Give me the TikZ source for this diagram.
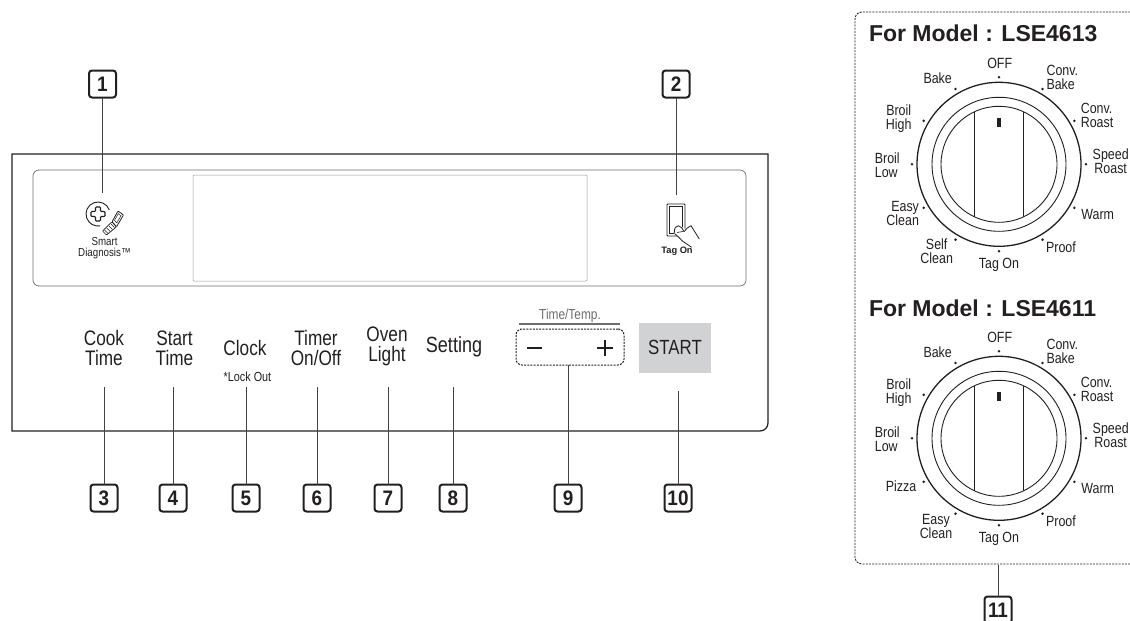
\documentclass[tikz,border=0pt]{standalone}
\usepackage{fontspec}
\setmainfont{Liberation Sans}
\newfontfamily\nar[FakeStretch=0.82]{Liberation Sans}
\newfontfamily\dialf[FakeStretch=0.84]{Liberation Sans}
\newfontfamily\narb[FakeStretch=0.9]{Liberation Sans Bold}
\definecolor{ink}{HTML}{231F20}
\definecolor{graybtn}{HTML}{D1D2D4}
\definecolor{midgray}{HTML}{6D6E70}
\tikzset{
  every node/.style={text=ink,inner sep=0pt,outer sep=0pt},
  callout/.style={draw=ink,line width=2pt,rounded corners=3pt,minimum width=27pt,minimum height=27pt,font=\narb\fontsize{21}{21}\selectfont},
  leader/.style={draw=ink!85,line width=1pt},
  keylabel/.style={align=center,font=\nar\fontsize{21}{20}\selectfont},
  dial/.style={align=center,font=\dialf\fontsize{14.8}{14}\selectfont},
  dialL/.style={align=left,font=\dialf\fontsize{14.8}{14}\selectfont},
  dialR/.style={align=right,font=\dialf\fontsize{14.8}{14}\selectfont},
  heading/.style={anchor=base west,font=\bfseries\fontsize{23}{23}\selectfont},
  ring/.style={draw=ink,line width=0.9pt},
  thinpanel/.style={draw=midgray,line width=0.7pt},
  dashframe/.style={draw=ink,line width=0.9pt,dash pattern=on 2pt off 1.2pt},
}
\newcommand{\knobparts}{%
  \draw[ring,line width=1.3pt] (0,0) circle (82pt);
  \draw[ring] (0,0) circle (67pt);
  \draw[ring] (0,0) circle (58pt);
  \draw[ring] (-24.7,-52.5) -- (-24.7,52.5);
  \draw[ring] (24.7,-52.5) -- (24.7,52.5);
  \fill[ink] (-1.6,-46.5) rectangle (1.6,-37.5);
  \foreach \a in {0,30,...,330} \fill[ink] (\a:87pt) circle (1.4pt);
}
\begin{document}
\begin{tikzpicture}[x=1pt,y=-1pt]
\useasboundingbox (0,0) rectangle (1130,621);
\clip (0,0) rectangle (1130,621);
% panel
\draw[draw=ink,line width=1.2pt,rounded corners=0pt] (12,431) -- (12,154) -- (768,154) -- (768,423)
   arc[start angle=0,end angle=-90,radius=8pt] -- cycle;
\draw[thinpanel,rounded corners=6pt] (33,170) rectangle (746,286);
\draw[draw=midgray!70,line width=0.5pt,rounded corners=1pt] (193,175) rectangle (587,281);
% callouts
\node[callout] (c1) at (102.5,84) {1};
\node[callout] (c2) at (676,84) {2};
\node[callout] (c3) at (104,498) {3};
\node[callout] (c4) at (173,498) {4};
\node[callout] (c5) at (246,498) {5};
\node[callout] (c6) at (317,498) {6};
\node[callout] (c7) at (388,498) {7};
\node[callout] (c8) at (453,498) {8};
\node[callout] (c9) at (568,498) {9};
\node[callout] (c10) at (678,498) {10};
\node[callout] (c11) at (998,610) {11};
% key labels
\node[keylabel] (cook) at (104,348) {Cook\\Time};
\node[keylabel] (start) at (174.5,348) {Start\\Time};
\node[keylabel] (clock) at (245,348) {Clock};
\node[font=\nar\fontsize{13.2}{13}\selectfont] (lock) at (247.5,377) {*Lock Out};
\node[keylabel] (timer) at (316,348) {Timer\\On/Off};
\node[keylabel] (oven) at (387,346) {Oven\\Light};
\node[font=\nar\fontsize{22}{22}\selectfont] (setting) at (454,347) {Setting};
\node[font=\nar\fontsize{14.5}{14}\selectfont,text=midgray] (timetemp) at (570,316) {Time/Temp.};
\draw[draw=midgray,line width=1.4pt] (519,324) -- (620,324);
\node[draw=ink,line width=1pt,dash pattern=on 2pt off 1.2pt,rounded corners=6pt,minimum width=108pt,minimum height=36pt] (updown) at (570,347) {};
\draw[ink,line width=1.4pt] (527,348) -- (542,348);
\draw[ink,line width=1.4pt] (597,348) -- (613,348) (605,340) -- (605,356);
\node[fill=graybtn,minimum width=72pt,minimum height=50pt] (startbtn) at (675,348) {};
\node[font=\nar\fontsize{20.5}{20}\selectfont] (starttxt) at (675,347.5) {START};
% smart diagnosis icon
\draw[ink,line width=0.9pt] (109.3,209.9) arc[start angle=20,end angle=280,radius=12pt];
\draw[ink,line width=1.1pt,rounded corners=0.8pt] (95.5,207) -- (100.5,207) -- (100.5,211.5) -- (105,211.5) -- (105,216.5) -- (100.5,216.5) -- (100.5,221) -- (95.5,221) -- (95.5,216.5) -- (91,216.5) -- (91,211.5) -- (95.5,211.5) -- cycle;
\draw[ink,line width=0.7pt,rounded corners=0.8pt] (102.5,231) -- (106.5,235) -- (116.5,226.8) -- (112,221.8) -- cycle;
\draw[ink,line width=0.6pt] (104.5,230) -- (108,233.5) (106.8,228) -- (110.3,231.5) (109,226) -- (112.5,229.5) (111,224) -- (114.5,227.5);
\draw[ink,line width=0.8pt,rounded corners=0.8pt] (112,221.8) -- (116.5,226.8) -- (123.5,215) -- (118,211) -- cycle;
\draw[ink,line width=0.5pt] (114.5,220.5) -- (116.8,222.8) -- (121,215.8) -- (118.3,213.6) -- cycle;
\node[align=center,font=\dialf\fontsize{11.6}{10.5}\selectfont] (smart) at (104.5,248) {Smart\\Diagnosis™};
% tag on icon
\draw[ink,line width=0.8pt,rounded corners=0.8pt] (667,204) rectangle (685,236);
\draw[ink,line width=0.5pt] (669.5,206.5) rectangle (682.5,233.5);
\fill[white] (673,232) -- (678,224) -- (700,240) -- (692,249) -- cycle;
\draw[ink,line width=0.8pt,line join=round] (674.3,233.3) .. controls (674,228) and (676,225.7) .. (678.3,225.7) .. controls (681,226) and (683,229) .. (684,231.7) .. controls (686,229) and (688.5,226.5) .. (691,225.7) -- (699.3,239);
\draw[ink,line width=0.8pt] (675,234) .. controls (679,237) and (681,240) .. (683.3,241.7) -- (691.7,247.3);
\draw[ink,line width=0.6pt] (677,232.5) -- (683,231.5);
\node[font=\bfseries\fontsize{9.3}{10}\selectfont] (tagon) at (677,251) {Tag On};
% right frame
\draw[dashframe,rounded corners=7pt] (1140,12) -- (855,12) -- (855,564) -- (1140,564);
\coordinate (framebot) at (998,564.5);
\node[heading] (h1) at (869,41) {For Model : LSE4613};
\node[heading] (h2) at (869,316) {For Model : LSE4611};
\begin{scope}[shift={(999,164.3)}]
  \knobparts
  \node[dial] (a1) at (0.7,-101) {OFF};
  \node[dialL] (a2) at (63.3,-86.7) {Conv.\\Bake};
  \node[dialL] (a3) at (98,-49) {Conv.\\Roast};
  \node[dial] (a4) at (111.7,-3.3) {Speed\\Roast};
  \node[dial] (a5) at (98.7,49.7) {Warm};
  \node[dial] (a6) at (62,83.3) {Proof};
  \node[dial] (a7) at (0,100.7) {Tag On};
  \node[dial] (a8) at (-62.3,87.3) {Self\\Clean};
  \node[dialR] (a9) at (-96.3,49.3) {Easy\\Clean};
  \node[dialL] (a10) at (-111.7,1) {Broil\\Low};
  \node[dial] (a11) at (-100.3,-45.3) {Broil\\High};
  \node[dial] (a12) at (-61.3,-86) {Bake};
\end{scope}
\begin{scope}[shift={(999,438.3)}]
  \knobparts
  \node[dial] (b1) at (0.7,-101) {OFF};
  \node[dialL] (b2) at (63.3,-86.7) {Conv.\\Bake};
  \node[dialL] (b3) at (98,-49) {Conv.\\Roast};
  \node[dial] (b4) at (111.7,-3.3) {Speed\\Roast};
  \node[dial] (b5) at (98.7,49.7) {Warm};
  \node[dial] (b6) at (62,83.3) {Proof};
  \node[dial] (b7) at (0,101) {Tag On};
  \node[dial] (b8) at (-63,88.3) {Easy\\Clean};
  \node[dial] (b9) at (-98,48.3) {Pizza};
  \node[dialL] (b10) at (-111.7,1) {Broil\\Low};
  \node[dial] (b11) at (-100.3,-45.3) {Broil\\High};
  \node[dial] (b12) at (-61.3,-86) {Bake};
\end{scope}
% leaders
\coordinate (t1) at (102.5,193);
\coordinate (t2) at (676,195);
\coordinate (t3) at (104,387);
\coordinate (t4) at (173,387);
\coordinate (t5) at (246,387);
\coordinate (t6) at (317,387);
\coordinate (t7) at (388,387);
\coordinate (t8) at (453,387);
\coordinate (t10) at (678,391);
\draw[leader] (c1) -- (t1);
\draw[leader] (c2) -- (t2);
\foreach \n in {3,4,5,6,7,8,10} \draw[leader] (c\n) -- (t\n);
\draw[leader] (c9.north) -- (c9.north |- updown.south);
\draw[leader] (c11.north) -- (c11.north |- framebot);
\end{tikzpicture}
\end{document}
